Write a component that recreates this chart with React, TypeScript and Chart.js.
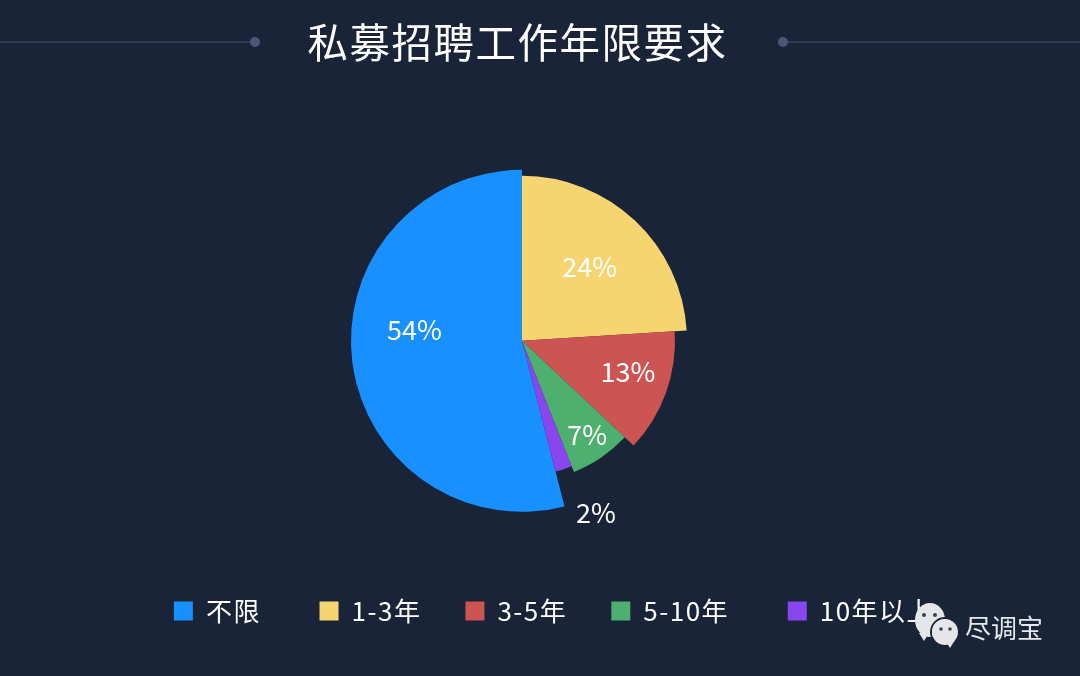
import React, { useEffect, useRef } from "react";
import { Chart, registerables } from "chart.js";

Chart.register(...registerables);

const titleText = "私募招聘工作年限要求";
const categories = ["不限", "1-3年", "3-5年", "5-10年", "10年以上"];
const shares = [54, 24, 13, 7, 2];
const colors = ["#1890FF", "#F6D570", "#CC5553", "#4DB06E", "#8A46EE"];
const sliceRadii = [171, 165, 153, 141, 135];
const labelRadii = [108, 99, 111, 116, 189];
const labelAngleShift = [12, 0, -2.5, 0, -5];
const legendTrailing = ["  ", "", "", "  ", ""];
const watermark = "尽调宝";
const FONT = '"Noto Sans CJK SC", "Noto Sans", sans-serif';

const shapingPlugin = {
  id: "shaping",
  beforeLayout(chart: any) {
    chart.ctx.letterSpacing = "1.5px";
  },
  afterLayout(chart: any) {
    chart.titleBlock.left -= 45;
    chart.legend.left += 14;
    chart.legend.right += 14;
  },
  afterDatasetsUpdate(chart: any) {
    chart.getDatasetMeta(0).data.forEach((arc: any, i: number) => {
      arc.outerRadius = sliceRadii[i];
      arc.x -= 18;
    });
  },
};

const decorPlugin = {
  id: "decor",
  beforeDraw(chart: any) {
    const { ctx, width } = chart;
    ctx.save();
    ctx.strokeStyle = "#38445F";
    ctx.lineWidth = 1.5;
    ctx.beginPath();
    ctx.moveTo(0, 42);
    ctx.lineTo(255, 42);
    ctx.moveTo(783, 42);
    ctx.lineTo(width, 42);
    ctx.stroke();
    ctx.fillStyle = "#4A5777";
    [255, 783].forEach((x) => {
      ctx.beginPath();
      ctx.arc(x, 42, 5, 0, Math.PI * 2);
      ctx.fill();
    });
    ctx.restore();
  },
};

const percentPlugin = {
  id: "percentLabels",
  afterDatasetsDraw(chart: any) {
    const { ctx } = chart;
    ctx.save();
    ctx.fillStyle = "#FFFFFF";
    ctx.font = `27px ${FONT}`;
    ctx.letterSpacing = "0px";
    ctx.textAlign = "center";
    ctx.textBaseline = "middle";
    chart.getDatasetMeta(0).data.forEach((arc: any, i: number) => {
      const mid = (arc.startAngle + arc.endAngle) / 2 + (labelAngleShift[i] * Math.PI) / 180;
      const x = arc.x + Math.cos(mid) * labelRadii[i];
      const y = arc.y + Math.sin(mid) * labelRadii[i];
      ctx.fillText(`${shares[i]}%`, x, y - 2);
    });
    ctx.restore();
  },
};

const bubble = (ctx: any, x: number, y: number, rx: number, ry: number, tailX: number, tailY: number, fill: string) => {
  ctx.fillStyle = fill;
  ctx.beginPath();
  ctx.ellipse(x, y, rx, ry, 0, 0, Math.PI * 2);
  ctx.fill();
  ctx.beginPath();
  ctx.moveTo(x + tailX - 5, y + tailY - 8);
  ctx.lineTo(x + tailX, y + tailY);
  ctx.lineTo(x + tailX + 5, y + tailY - 8);
  ctx.fill();
};

const watermarkPlugin = {
  id: "watermark",
  afterDraw(chart: any) {
    const { ctx } = chart;
    ctx.save();
    const eyes = "#3A4152";
    bubble(ctx, 930, 620, 15, 17, -6, 21, "#E4E6E8");
    ctx.fillStyle = eyes;
    [924, 935].forEach((x) => {
      ctx.beginPath();
      ctx.arc(x, 615, 2, 0, Math.PI * 2);
      ctx.fill();
    });
    ctx.strokeStyle = "#1A2439";
    ctx.lineWidth = 2;
    ctx.beginPath();
    ctx.ellipse(945, 632, 14, 14, 0, 0, Math.PI * 2);
    ctx.stroke();
    bubble(ctx, 945, 632, 13, 13, 5, 16, "#E4E6E8");
    ctx.fillStyle = eyes;
    [941, 950].forEach((x) => {
      ctx.beginPath();
      ctx.arc(x, 629, 1.8, 0, Math.PI * 2);
      ctx.fill();
    });
    ctx.fillStyle = "#E6E8EA";
    ctx.font = `26px ${FONT}`;
    ctx.letterSpacing = "0px";
    ctx.textAlign = "left";
    ctx.textBaseline = "middle";
    ctx.fillText(watermark, 965, 628);
    ctx.restore();
  },
};

export default function App() {
  const ref = useRef<HTMLCanvasElement>(null);
  useEffect(() => {
    const chart = new Chart(ref.current as HTMLCanvasElement, {
      type: "pie",
      data: {
        labels: categories,
        datasets: [{ data: shares, backgroundColor: colors, borderWidth: 0 }],
      },
      options: {
        responsive: false,
        animation: false,
        devicePixelRatio: 1,
        rotation: 165.6,
        layout: { padding: { bottom: 42 } },
        plugins: {
          tooltip: { enabled: false },
          title: {
            display: true,
            text: titleText,
            color: "#FFFFFF",
            font: { family: FONT, size: 40.5, weight: "normal", lineHeight: 1.2 },
            padding: { top: 18, bottom: 61 },
          },
          legend: {
            position: "bottom",
            labels: {
              color: "#FFFFFF",
              font: { family: FONT, size: 26 },
              boxWidth: 19,
              boxHeight: 19,
              padding: 44,
              generateLabels(c: any) {
                const items = (Chart as any).overrides.pie.plugins.legend.labels.generateLabels(c);
                return items.map((item: any, i: number) => ({ ...item, text: item.text + legendTrailing[i] }));
              },
            },
          },
        },
      } as any,
      plugins: [shapingPlugin, decorPlugin, percentPlugin, watermarkPlugin],
    });
    return () => chart.destroy();
  }, []);
  return (
    <div style={{ position: "fixed", left: 0, top: 0, width: 1080, height: 676, background: "#1A2439" }}>
      <canvas ref={ref} width={1080} height={676} style={{ display: "block" }} />
    </div>
  );
}
